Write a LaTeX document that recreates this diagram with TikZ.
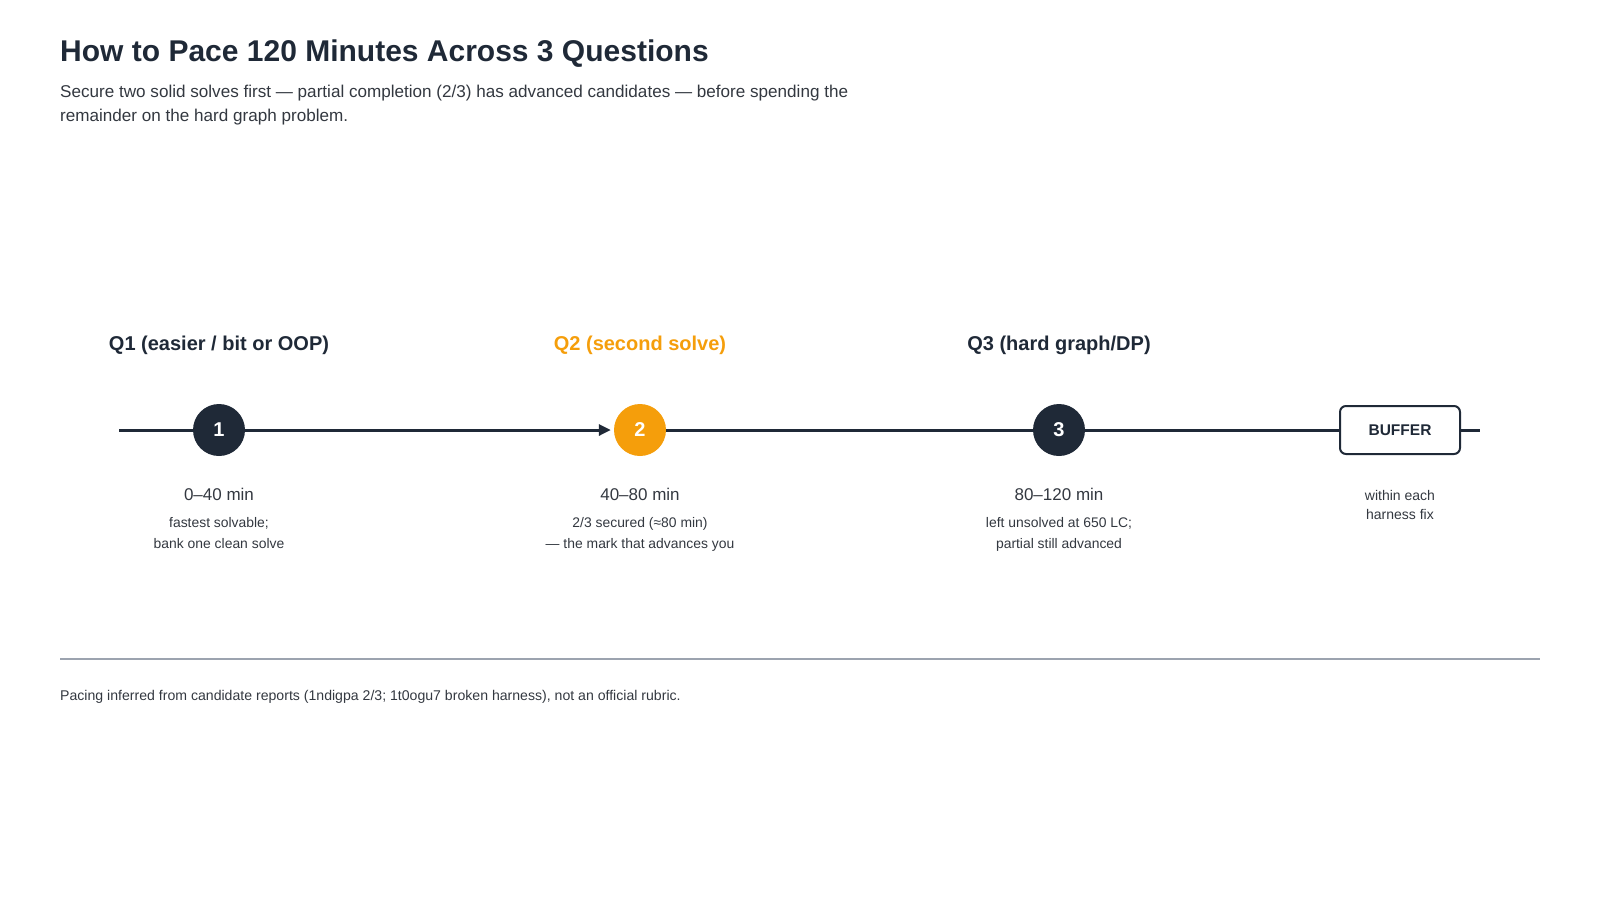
\documentclass[tikz,border=0pt]{standalone}
\usepackage{fontspec}
\setmainfont{Liberation Sans}
\usetikzlibrary{arrows.meta}
\definecolor{navy}{HTML}{1F2937}
\definecolor{amber}{HTML}{F59E0B}
\definecolor{bodytxt}{HTML}{333840}
\definecolor{rule}{HTML}{9CA3AF}
\begin{document}
\begin{tikzpicture}[x=1pt,y=-1pt,
  stepcircle/.style={circle,fill=navy,minimum size=52pt,inner sep=0pt,text=white,font=\fontsize{20}{24}\selectfont\bfseries},
  qlabel/.style={anchor=base,text=navy,font=\fontsize{20}{24}\selectfont\bfseries},
  timelabel/.style={anchor=base,text=bodytxt,font=\fontsize{17}{20}\selectfont},
  desclabel/.style={anchor=base,text=bodytxt,font=\fontsize{13.9}{16}\selectfont},
  tline/.style={draw=navy,line width=3pt}
]
\useasboundingbox (0,0) rectangle (1600,900);
% title
\node[anchor=base west,inner sep=0pt,text=navy,font=\fontsize{30}{36}\selectfont\bfseries] (title) at (60,61) {How to Pace 120 Minutes Across 3 Questions};
\node[anchor=base west,inner sep=0pt,text=bodytxt,font=\fontsize{17.1}{20}\selectfont] (sub1) at (60,97) {Secure two solid solves first — partial completion (2/3) has advanced candidates — before spending the};
\node[anchor=base west,inner sep=0pt,text=bodytxt,font=\fontsize{17.1}{20}\selectfont] (sub2) at (60,121) {remainder on the hard graph problem.};
% timeline nodes
\coordinate (tstart) at (119,430);
\coordinate (tend) at (1480,430);
\node[stepcircle] (c1) at (219,430) {1};
\node[stepcircle,fill=amber] (c2) at (640,430) {2};
\node[stepcircle] (c3) at (1059,430) {3};
\node[draw=navy,line width=2pt,rounded corners=6pt,minimum width=120pt,minimum height=48pt,inner sep=0pt,text=navy,font=\fontsize{15.5}{18}\selectfont\bfseries] (buf) at (1400,430) {BUFFER};
\draw[tline] (tstart) -- (c1);
\draw[tline,-{Triangle[length=12pt,width=11pt]},shorten >=3pt] (c1) -- (c2);
\draw[tline] (c2) -- (c3);
\draw[tline] (c3) -- (buf);
\draw[tline] (buf) -- (tend);
% Q labels
\node[qlabel] (q1) at (219,350) {Q1 (easier / bit or OOP)};
\node[qlabel,text=amber] (q2) at (640,350) {Q2 (second solve)};
\node[qlabel] (q3) at (1059,350) {Q3 (hard graph/DP)};
% times
\node[timelabel] (t1) at (219,500) {0–40 min};
\node[timelabel] (t2) at (640,500) {40–80 min};
\node[timelabel] (t3) at (1059,500) {80–120 min};
% descriptions
\node[desclabel] (d1a) at (219,527) {fastest solvable;};
\node[desclabel] (d1b) at (219,548) {bank one clean solve};
\node[desclabel] (d2a) at (640,527) {2/3 secured (≈80 min)};
\node[desclabel] (d2b) at (640,548) {— the mark that advances you};
\node[desclabel] (d3a) at (1059,527) {left unsolved at 650 LC;};
\node[desclabel] (d3b) at (1059,548) {partial still advanced};
\node[desclabel,font=\fontsize{14}{16}\selectfont] (b1) at (1400,500) {within each};
\node[desclabel,font=\fontsize{14}{16}\selectfont] (b2) at (1400,519) {harness fix};
% footer
\coordinate (rl) at (60,659);
\coordinate (rr) at (1540,659);
\draw[rule,line width=1.5pt] (rl) -- (rr);
\node[anchor=base west,inner sep=0pt,text=bodytxt,font=\fontsize{14.1}{16}\selectfont] (foot) at (60,700) {Pacing inferred from candidate reports (1ndigpa 2/3; 1t0ogu7 broken harness), not an official rubric.};
\end{tikzpicture}
\end{document}
